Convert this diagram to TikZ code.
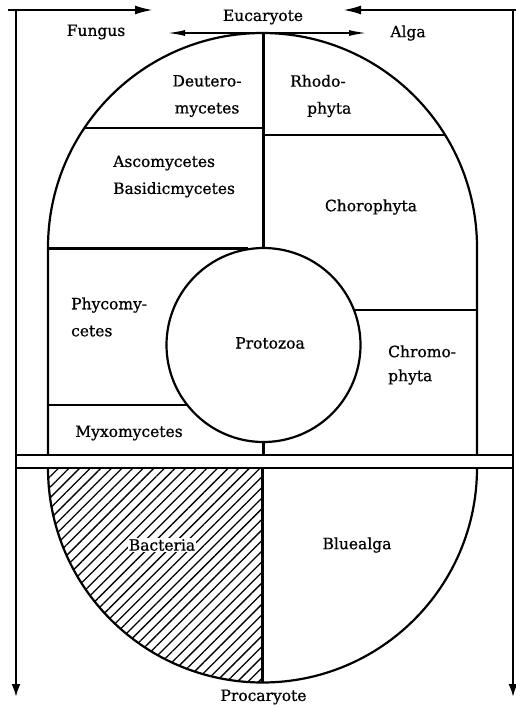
\documentclass[tikz,border=0pt]{standalone}
\usepackage{fontspec}
\setmainfont{DejaVu Serif}[FakeBold=0.8]
\usetikzlibrary{arrows.meta,patterns.meta}
\begin{document}
\begin{tikzpicture}[x=1pt,y=-1pt,
  ln/.style={line width=2.2pt},
  lbl/.style={font=\fontsize{15.5}{27}\selectfont, inner sep=0pt, align=left},
  toptip/.style={-{Latex[length=18pt,width=9pt]}},
  downtip/.style={-{Latex[length=13pt,width=9pt]}},
  bothtip/.style={{Latex[length=18pt,width=6pt]}-{Latex[length=18pt,width=6pt]}}]
\useasboundingbox (0,0) rectangle (516,707);
% frame coordinates
\coordinate (tl0) at (8,10);
\coordinate (tl1) at (153,10);
\coordinate (lv0) at (16,10);
\coordinate (lv1) at (16,697);
\coordinate (tr0) at (516,10);
\coordinate (tr1) at (343,10);
\coordinate (rv0) at (513,10);
\coordinate (rv1) at (513,697);
\coordinate (ea) at (167,33);
\coordinate (eb) at (367,33);
% hatched quarter
\path[pattern={Lines[angle=45,distance=7.5pt,line width=1.3pt]}]
  (262.5,468) -- (48,468) arc[start angle=180,end angle=90,radius=214.5] -- cycle;
% frame arrows
\draw[ln,toptip] (tl0) -- (tl1);
\draw[ln,toptip] (tr0) -- (tr1);
\draw[ln,downtip] (lv0) -- (lv1);
\draw[ln,downtip] (rv0) -- (rv1);
\draw[line width=1.8pt,bothtip] (ea) -- (eb);
% separator lines
\coordinate (s1a) at (16,455); \coordinate (s1b) at (513,455);
\coordinate (s2a) at (16,468); \coordinate (s2b) at (513,468);
\draw[ln] (s1a) -- (s1b);
\draw[ln] (s2a) -- (s2b);
% upper oval
\draw[ln] (48,455) -- (48,247.5) arc[start angle=180,end angle=360,radius=214.5] -- (477,455);
% lower semicircle
\draw[ln] (48,468) arc[start angle=180,end angle=0,radius=214.5];
\coordinate (lc0) at (262.5,468); \coordinate (lc1) at (262.5,682.5);
\draw[ln] (lc0) -- (lc1);
% protozoa circle
\node[circle,draw,ln,minimum size=194pt,inner sep=0pt] (pz) at (263.5,345) {};
\coordinate (ctop) at (263.5,33);
\coordinate (cbot) at (263.5,455);
\draw[ln] (ctop) -- (pz.north);
\draw[ln] (pz.south) -- (cbot);
% inner division lines
\draw[ln] (84.4,128) -- (263.5,128);
\draw[ln] (263.5,135) -- (445.1,135);
\draw[ln] (48,248.5) -- (248,248.5);
\draw[ln] (48,405) -- (187.3,405);
\draw[ln] (354,310) -- (477,310);
% labels
\node[lbl] (euc) at (263,17) {Eucaryote};
\node[lbl] (fun) at (96,32) {Fungus};
\node[lbl] (alg) at (408,33) {Alga};
\node[lbl,align=center] (deu) at (207,96) {Deutero-\\mycetes};
\node[lbl,anchor=west] (rho) at (290,96) {Rhodo-\\\hspace*{17pt}phyta};
\node[lbl,anchor=west] (asc) at (113,176.5) {Ascomycetes\\Basidicmycetes};
\node[lbl] (cho) at (371,207) {Chorophyta};
\node[lbl,anchor=west] (phy) at (71,317) {Phycomy-\\cetes};
\node[lbl] (pro) at (270,343) {Protozoa};
\node[lbl,anchor=west,font=\fontsize{15.5}{24}\selectfont] (chr) at (388,365) {Chromo-\\phyta};
\node[lbl] (myx) at (129,433) {Myxomycetes};
\node[lbl,fill=white,inner sep=1pt] (bac) at (162,545) {Bacteria};
\node[lbl] (blu) at (357,545) {Bluealga};
\node[lbl] (pca) at (263.5,697) {Procaryote};
\end{tikzpicture}
\end{document}
